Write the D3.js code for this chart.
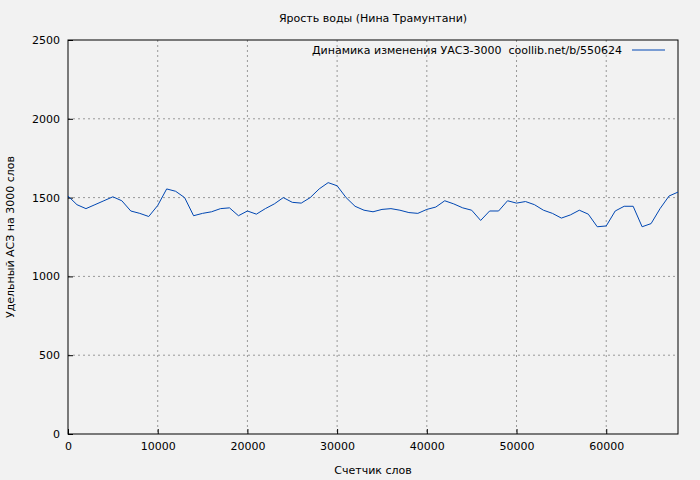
<!DOCTYPE html><html><head><meta charset="utf-8"><script src="https://cdn.jsdelivr.net/npm/d3@7"></script>
<style>body{margin:0;background:#f2f2f2}text{font-family:"DejaVu Sans",sans-serif;font-size:11px}</style></head><body><svg id="c" width="700" height="480"></svg>
<script>
const xValues=d3.range(0,69000,1000);
const yValues=[1510,1455,1430,1455,1480,1505,1480,1415,1400,1380,1450,1555,1540,1500,1385,1400,1410,1430,1435,1385,1415,1395,1430,1460,1500,1470,1465,1500,1555,1595,1575,1500,1445,1420,1410,1425,1430,1420,1405,1400,1425,1440,1480,1460,1435,1420,1355,1415,1415,1480,1465,1475,1455,1420,1400,1370,1390,1420,1395,1315,1320,1415,1445,1445,1315,1335,1430,1510,1535];
const xTicks=[0,10000,20000,30000,40000,50000,60000];
const yTicks=[0,500,1000,1500,2000,2500];
const svg=d3.select("#c");
svg.append("rect").attr("width",700).attr("height",480).attr("fill","#f2f2f2");
const x=d3.scaleLinear().domain([0,68000]).range([68,678]);
const y=d3.scaleLinear().domain([0,2500]).range([434,40]);
const g=svg.append("g");
xTicks.slice(1).forEach(t=>g.append("line").attr("x1",x(t)).attr("x2",x(t)).attr("y1",40).attr("y2",434).attr("stroke","#999").attr("stroke-dasharray","2,3"));
yTicks.slice(1,-1).forEach(t=>g.append("line").attr("x1",68).attr("x2",678).attr("y1",y(t)).attr("y2",y(t)).attr("stroke","#999").attr("stroke-dasharray","2,3"));
svg.append("rect").attr("x",68).attr("y",40).attr("width",610).attr("height",394).attr("fill","none").attr("stroke","#000");
svg.append("g").attr("transform","translate(0,434)").call(d3.axisBottom(x).tickValues(xTicks).tickFormat(d3.format("d")).tickSize(-5).tickPadding(8)).call(a=>a.select(".domain").remove()).selectAll("text").style("font-size","11px").style("font-family","DejaVu Sans");
svg.append("g").attr("transform","translate(68,0)").call(d3.axisLeft(y).tickValues(yTicks).tickFormat(d3.format("d")).tickSize(-5).tickPadding(8)).call(a=>a.select(".domain").remove()).selectAll("text").style("font-size","11px").style("font-family","DejaVu Sans");
svg.append("path").datum(xValues.map((v,i)=>[v,yValues[i]])).attr("fill","none").attr("stroke","#0047b3").attr("stroke-width",1).attr("d",d3.line().x(d=>x(d[0])).y(d=>y(d[1])));
svg.append("text").attr("x",373).attr("y",22).attr("text-anchor","middle").text("Ярость воды (Нина Трамунтани)");
svg.append("text").attr("x",373).attr("y",474).attr("text-anchor","middle").text("Счетчик слов");
svg.append("text").attr("transform","translate(14,237) rotate(-90)").attr("text-anchor","middle").text("Удельный АСЗ на 3000 слов");
svg.append("text").attr("x",622).attr("y",54).attr("text-anchor","end").attr("xml:space","preserve").style("white-space","pre").text("Динамика изменения УАСЗ-3000  coollib.net/b/550624");
svg.append("line").attr("x1",632).attr("x2",665).attr("y1",50).attr("y2",50).attr("stroke","#0047b3");
</script></body></html>
